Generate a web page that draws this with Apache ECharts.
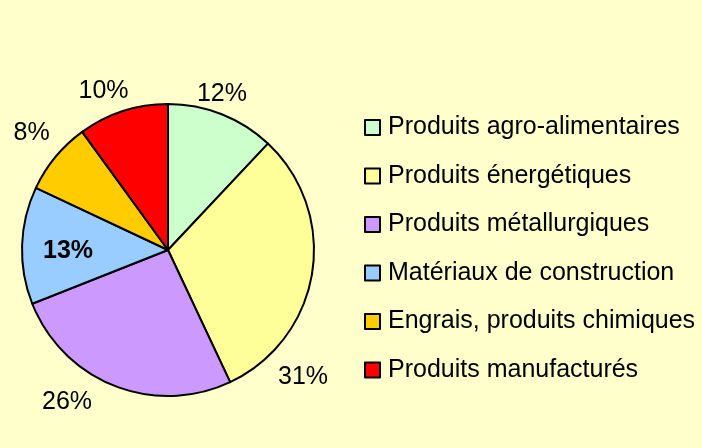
<!DOCTYPE html>
<html><head><meta charset="utf-8">
<script src="https://cdn.jsdelivr.net/npm/echarts@6/dist/echarts.min.js"></script>
<style>html,body{margin:0;padding:0;background:#FFFFCC}#c{width:702px;height:448px}</style>
</head><body><div id="c"></div>
<script>
const categories = ['Produits agro-alimentaires','Produits énergétiques','Produits métallurgiques','Matériaux de construction','Engrais, produits chimiques','Produits manufacturés'];
const values = [12, 31, 26, 13, 8, 10];
const colors = ['#CCFFCC','#FFFF99','#CC99FF','#99CCFF','#FFCC00','#FF0000'];
const insideIndex = 3;
// label nudges relative to the library's own outside/inside placement
const labelShift = [[-35,-7],[-53,102],[-12,3],[-24,3],[10,-15],[15,-7]];

const chart = echarts.init(document.getElementById('c'), null, {renderer:'canvas'});
const data = categories.map((n,i)=>{
  const d = {name:n, value:values[i], itemStyle:{color:colors[i]}};
  if (i === insideIndex) d.label = {position:'inside', fontWeight:'bold'};
  return d;
});
chart.setOption({
  backgroundColor:'#FFFFCC',
  animation:false,
  textStyle:{fontFamily:'Liberation Sans, Arial, sans-serif'},
  legend:{
    orient:'vertical', left:359, top:110, itemWidth:15, itemHeight:15, itemGap:23.5,
    icon:'rect',
    textStyle:{fontSize:25, color:'#000', fontFamily:'Liberation Sans, Arial, sans-serif', padding:[0,0,0,3]},
    selectedMode:false
  },
  series:[{
    type:'pie', center:[168,250], radius:146, startAngle:90, clockwise:true,
    data:data,
    itemStyle:{borderColor:'#000', borderWidth:2},
    label:{show:true, formatter:'{d}%', fontSize:25, color:'#000', fontFamily:'Liberation Sans, Arial, sans-serif', position:'outside', overflow:'none'},
    labelLine:{show:false, length:14, length2:0},
    labelLayout:function(p){ const s = labelShift[p.dataIndex]; return {dx:s[0], dy:s[1]}; },
    emphasis:{disabled:true}
  }]
});
</script></body></html>
